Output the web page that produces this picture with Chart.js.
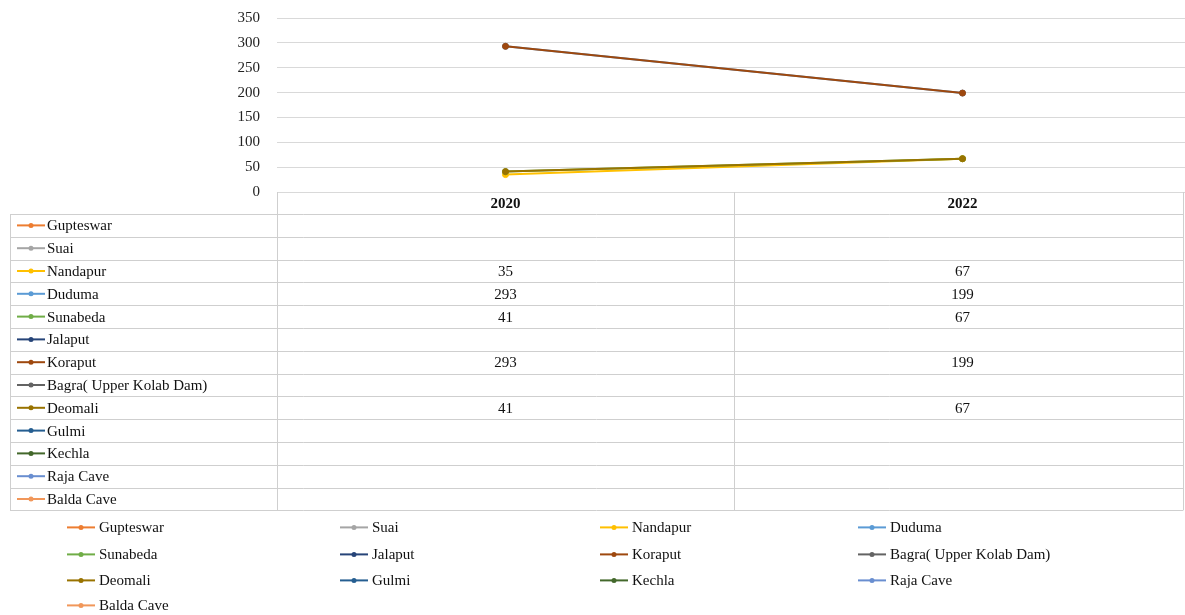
<!DOCTYPE html>
<html>
<head>
<meta charset="utf-8">
<script src="https://cdn.jsdelivr.net/npm/chart.js@4.4.1/dist/chart.umd.min.js"></script>
<style>
  html, body { margin: 0; padding: 0; background: #fff; overflow: hidden; }
  #clip { width: 1185px; height: 615px; overflow: hidden; }
  #wrap { width: 1196px; height: 623px; position: relative; top: -8px; }
</style>
</head>
<body>
<div id="clip"><div id="wrap"><canvas id="chart"></canvas></div></div>
<script>
// categories
const years = ['2020', '2022'];

// tourist spots, in table / legend order
const sites = ['Gupteswar', 'Suai', 'Nandapur', 'Duduma', 'Sunabeda', 'Jalaput', 'Koraput',
  'Bagra( Upper Kolab Dam)', 'Deomali', 'Gulmi', 'Kechla', 'Raja Cave', 'Balda Cave'];

// values per site (null = no entry)
const gupteswar = [null, null];
const suai = [null, null];
const nandapur = [35, 67];
const duduma = [293, 199];
const sunabeda = [41, 67];
const jalaput = [null, null];
const koraput = [293, 199];
const bagra = [null, null];
const deomali = [41, 67];
const gulmi = [null, null];
const kechla = [null, null];
const rajaCave = [null, null];
const baldaCave = [null, null];

const siteValues = [gupteswar, suai, nandapur, duduma, sunabeda, jalaput, koraput,
  bagra, deomali, gulmi, kechla, rajaCave, baldaCave];

const yTicks = [0, 50, 100, 150, 200, 250, 300, 350];

const siteColors = ['#ED7D31', '#A5A5A5', '#FFC000', '#5B9BD5', '#70AD47', '#264478', '#9E480E',
  '#636363', '#997300', '#255E91', '#43682B', '#698ED0', '#F1975A'];

const serif = '"Liberation Serif", "Times New Roman", serif';
const gridColor = '#d9d9d9';

function drawKey(ctx, x, y, color) {
  ctx.save();
  ctx.strokeStyle = color;
  ctx.lineWidth = 2;
  ctx.beginPath();
  ctx.moveTo(x, y);
  ctx.lineTo(x + 28, y);
  ctx.stroke();
  ctx.fillStyle = color;
  ctx.beginPath();
  ctx.arc(x + 14, y, 2.5, 0, Math.PI * 2);
  ctx.fill();
  ctx.restore();
}

// data table under the plot + legend grid at the very bottom
const tablePlugin = {
  id: 'dataTable',
  afterDraw(chart) {
    const ctx = chart.ctx;
    const area = chart.chartArea;
    const xs = chart.scales.x;
    const c0 = xs.getPixelForValue(0);
    const c1 = xs.getPixelForValue(1);
    const mid = (c0 + c1) / 2;
    const left = 10, right = 1183;
    const headTop = area.bottom, headBottom = area.bottom + 22;
    const rowH = 22.8;
    const bottom = headBottom + rowH * sites.length;

    ctx.save();
    ctx.strokeStyle = '#cfcfcf';
    ctx.lineWidth = 1;
    ctx.beginPath();
    // header row lines (only over value columns)
    ctx.moveTo(area.left + 0.5, headTop);
    ctx.lineTo(area.left + 0.5, bottom);
    ctx.moveTo(Math.round(mid) + 0.5, headTop);
    ctx.lineTo(Math.round(mid) + 0.5, bottom);
    ctx.moveTo(right + 0.5, headTop);
    ctx.lineTo(right + 0.5, bottom);
    ctx.moveTo(left + 0.5, headBottom);
    ctx.lineTo(left + 0.5, bottom);
    for (let i = 0; i <= sites.length; i++) {
      const y = Math.round(headBottom + rowH * i) + 0.5;
      ctx.moveTo(left, y);
      ctx.lineTo(right, y);
    }
    ctx.stroke();

    ctx.fillStyle = '#111';
    ctx.textBaseline = 'middle';
    ctx.textAlign = 'center';
    ctx.font = 'bold 15px ' + serif;
    years.forEach((yr, i) => {
      ctx.fillText(yr, xs.getPixelForValue(i), (headTop + headBottom) / 2 + 1);
    });

    ctx.font = '15px ' + serif;
    sites.forEach((name, r) => {
      const cy = headBottom + rowH * r + rowH / 2;
      drawKey(ctx, 17, cy, siteColors[r]);
      ctx.textAlign = 'left';
      ctx.fillStyle = '#111';
      ctx.fillText(name, 47, cy + 1);
      ctx.textAlign = 'center';
      siteValues[r].forEach((v, i) => {
        if (v !== null) ctx.fillText(String(v), xs.getPixelForValue(i), cy + 1);
      });
    });

    // legend: 4 columns, rows measured from the table bottom
    const colX = [99, 372, 632, 890];
    const rowY = [17, 44, 70, 95].map(d => bottom + d);
    ctx.textAlign = 'left';
    sites.forEach((name, i) => {
      const x = colX[i % 4];
      const y = rowY[Math.floor(i / 4)];
      drawKey(ctx, x - 32, y, siteColors[i]);
      ctx.fillStyle = '#111';
      ctx.fillText(name, x, y + 1);
    });
    ctx.restore();
  }
};

new Chart(document.getElementById('chart'), {
  type: 'line',
  data: {
    labels: years,
    datasets: sites.map((name, i) => ({
      label: name,
      data: siteValues[i],
      borderColor: siteColors[i],
      backgroundColor: siteColors[i],
      borderWidth: 2,
      pointRadius: 3,
      pointBorderWidth: 1,
      tension: 0,
      order: sites.length - i
    }))
  },
  options: {
    responsive: true,
    maintainAspectRatio: false,
    animation: false,
    layout: { padding: { top: 10, right: 0, bottom: 423, left: 0 } },
    plugins: {
      legend: { display: false },
      tooltip: { enabled: false },
      title: { display: false }
    },
    scales: {
      x: {
        display: false,
        offset: true
      },
      y: {
        min: 0,
        max: 350,
        afterBuildTicks(scale) {
          scale.ticks = yTicks.map(v => ({ value: v }));
        },
        afterFit(scale) { scale.width = 277; },
        border: { display: false },
        grid: { color: gridColor, lineWidth: 1, drawTicks: false },
        ticks: {
          padding: 17,
          color: '#222',
          font: { family: serif, size: 15 }
        }
      }
    }
  },
  plugins: [tablePlugin]
});
</script>
</body>
</html>
